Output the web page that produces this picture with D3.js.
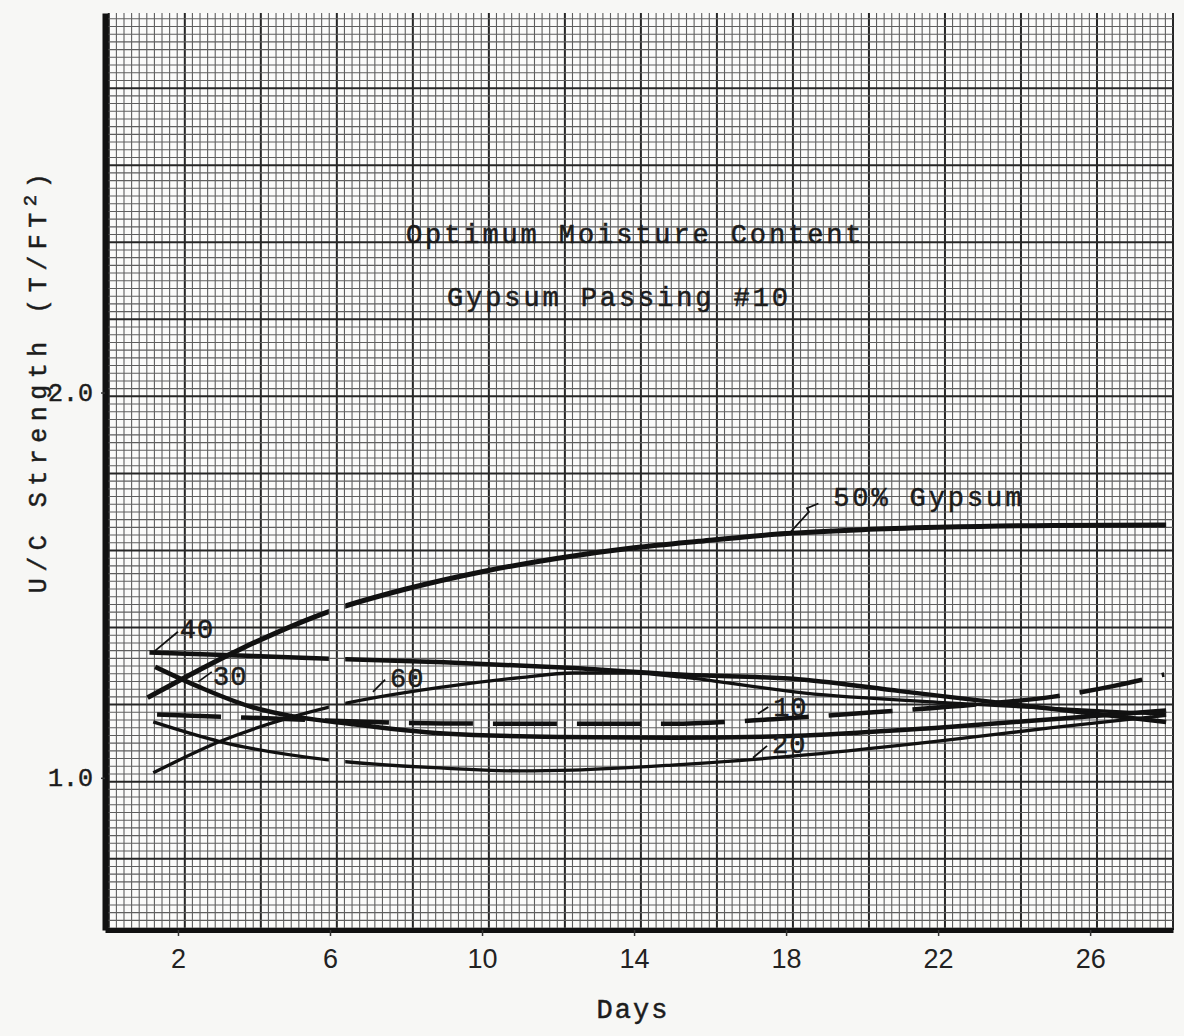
<!DOCTYPE html>
<html>
<head>
<meta charset="utf-8">
<script src="https://cdn.jsdelivr.net/npm/d3@7"></script>
<style>
  body { margin: 0; background: #f7f7f5; }
  svg { display: block; }
  .type { font-family: "Liberation Mono", "DejaVu Sans Mono", monospace; fill: #1c1c1c; stroke: #1c1c1c; stroke-width: 0.5px; }
</style>
</head>
<body>
<div id="chart"></div>
<script>
// curves: [day, U/C strength in T/ft2]
var gyp50 = [[1.2,1.208],[3.6,1.332],[6.1,1.436],[8,1.49],[10,1.535],[12,1.57],[14,1.597],[15.7,1.614],[18,1.634],[20,1.644],[22,1.65],[25,1.655],[28,1.656]];
var gyp40 = [[1.25,1.325],[4,1.316],[6,1.309],[9,1.3],[12.4,1.285],[15.2,1.268],[18.4,1.255],[21,1.225],[24,1.19],[28,1.145]];
var gyp30 = [[1.4,1.288],[2.6,1.234],[3.9,1.185],[5,1.16],[6.3,1.143],[9,1.115],[12,1.106],[15,1.104],[18.5,1.11],[22,1.13],[25,1.152],[28,1.175]];
var gyp60 = [[1.35,1.013],[3.1,1.094],[6,1.184],[9,1.236],[11,1.26],[12.4,1.272],[14,1.272],[15.2,1.262],[18.5,1.22],[22,1.196],[25,1.18],[28,1.165]];
var gyp20 = [[1.35,1.145],[3.1,1.094],[5.9,1.047],[9,1.025],[11,1.018],[12.4,1.02],[15,1.033],[18.6,1.06],[22,1.095],[25,1.13],[28,1.162]];
var gyp10 = [[1.45,1.164],[3.9,1.156],[9,1.141],[15,1.14],[17,1.148],[18.4,1.157],[20.3,1.17],[23,1.19],[25,1.21],[26.6,1.238],[27.95,1.268]];

var xTicks = [2, 6, 10, 14, 18, 22, 26];
var yTicks = [1.0, 2.0];

// little pointer notes written next to the curves
var notes = [
  {text: "40", from: [1.34,1.325], to: [2.0,1.379], at: [2.05,1.364]},
  {text: "30", from: [2.53,1.249], to: [2.89,1.275], at: [2.92,1.242]},
  {text: "60", from: [7.13,1.223], to: [7.45,1.255], at: [7.58,1.236]},
  {text: "10", from: [17.26,1.166], to: [17.53,1.184], at: [17.66,1.161]},
  {text: "20", from: [17.13,1.052], to: [17.5,1.083], at: [17.63,1.065]}
];

var width = 1184, height = 1036;
var pl = 105, pr = 1173, pt = 13, pb = 930;   // plot box edges

var svg = d3.select("#chart").append("svg")
    .attr("width", width)
    .attr("height", height);

var x = d3.scaleLinear().domain([0.08, 28.18]).range([pl, pr]);
var y = d3.scaleLinear().domain([0.605, 2.985]).range([pb, pt]);

// graph paper
svg.append("rect")
    .attr("x", pl).attr("y", pt)
    .attr("width", pr - pl).attr("height", pb - pt)
    .attr("fill", "#fbfbfa");

var grid = svg.append("g");
var vLines = d3.range(0, 141).map(function(i) { return {v: 0.18 + i * 0.2, major: i % 10 == 0}; });
var hLines = d3.range(0, 120).map(function(i) { return {v: 0.59 + i * 0.02, major: i % 10 == 0}; });

grid.selectAll(".vl")
  .data(vLines.filter(function(d) { return d.v <= 28.2; }))
  .enter().append("line")
    .attr("x1", function(d) { return x(d.v); })
    .attr("x2", function(d) { return x(d.v); })
    .attr("y1", pt).attr("y2", pb)
    .attr("stroke", function(d) { return d.major ? "#262626" : "#5f5f5f"; })
    .attr("stroke-width", function(d) { return d.major ? 2 : 1.1; });

grid.selectAll(".hl")
  .data(hLines.filter(function(d) { return d.v > 0.605 && d.v < 2.985; }))
  .enter().append("line")
    .attr("y1", function(d) { return y(d.v); })
    .attr("y2", function(d) { return y(d.v); })
    .attr("x1", pl).attr("x2", pr)
    .attr("stroke", function(d) { return d.major ? "#262626" : "#5f5f5f"; })
    .attr("stroke-width", function(d) { return d.major ? 2 : 1.1; });

// the inked curves were broken where the day 6 points sat
var defs = svg.append("defs");
var gap = defs.append("clipPath").attr("id", "gap");
gap.append("rect").attr("x", pl).attr("y", pt)
    .attr("width", x(5.97) - pl).attr("height", pb - pt);
gap.append("rect").attr("x", x(6.4)).attr("y", pt)
    .attr("width", pr - x(6.4)).attr("height", pb - pt);

var line = d3.line()
    .x(function(d) { return x(d[0]); })
    .y(function(d) { return y(d[1]); })
    .curve(d3.curveMonotoneX);

var curves = [
  {data: gyp50, w: 5, dash: null, clip: true},
  {data: gyp40, w: 4.5, dash: null, clip: true},
  {data: gyp30, w: 4.5, dash: null, clip: false},
  {data: gyp60, w: 3.3, dash: null, clip: true},
  {data: gyp20, w: 3.3, dash: null, clip: true},
  {data: gyp10, w: 4.5, dash: "64,20", clip: false}
];

svg.selectAll(".curve")
  .data(curves)
  .enter().append("path")
    .attr("d", function(d) { return line(d.data); })
    .attr("fill", "none")
    .attr("stroke", "#111")
    .attr("stroke-width", function(d) { return d.w; })
    .attr("stroke-dasharray", function(d) { return d.dash; })
    .attr("stroke-linecap", "butt")
    .attr("clip-path", function(d) { return d.clip ? "url(#gap)" : null; });

// pointer notes
notes.forEach(function(n) {
  svg.append("line")
    .attr("x1", x(n.from[0])).attr("y1", y(n.from[1]))
    .attr("x2", x(n.to[0])).attr("y2", y(n.to[1]))
    .attr("stroke", "#111").attr("stroke-width", 1.8);
  svg.append("text").attr("class", "type")
    .attr("x", x(n.at[0])).attr("y", y(n.at[1]))
    .attr("font-size", 27).attr("letter-spacing", 1)
    .text(n.text);
});

svg.append("path")
    .attr("d", d3.line()([[x(18.1), y(1.636)], [x(18.6), y(1.69)], [x(18.55), y(1.7)], [x(18.85), y(1.712)]]))
    .attr("fill", "none").attr("stroke", "#111").attr("stroke-width", 1.8);
svg.append("text").attr("class", "type")
    .attr("x", x(19.24)).attr("y", y(1.706))
    .attr("font-size", 27).attr("letter-spacing", 2.9)
    .text("50% Gypsum");

// typed captions
svg.append("text").attr("class", "type")
    .attr("x", 406).attr("y", 243)
    .attr("font-size", 27).attr("letter-spacing", 2.9)
    .text("Optimum Moisture Content");
svg.append("text").attr("class", "type")
    .attr("x", 447).attr("y", 306)
    .attr("font-size", 27).attr("letter-spacing", 2.9)
    .text("Gypsum Passing #10");

// axes
var xAxis = svg.append("g")
    .attr("transform", "translate(0," + pb + ")")
    .call(d3.axisBottom(x).tickValues(xTicks).tickSize(6).tickSizeOuter(0).tickPadding(13));
xAxis.select(".domain").attr("stroke", "#111").attr("stroke-width", 5);
xAxis.selectAll(".tick line").attr("stroke", "#333").attr("stroke-width", 1.5);
xAxis.selectAll(".tick text")
    .attr("font-family", "'Liberation Sans', Arial, sans-serif")
    .attr("font-size", 27).attr("fill", "#222");

var yAxis = svg.append("g")
    .attr("transform", "translate(" + pl + ",0)")
    .call(d3.axisLeft(y).tickValues(yTicks).tickFormat(d3.format(".1f")).tickSize(4).tickSizeOuter(0).tickPadding(8));
yAxis.select(".domain").attr("stroke", "#111").attr("stroke-width", 6);
yAxis.selectAll(".tick line").attr("stroke", "#333").attr("stroke-width", 1.5);
yAxis.selectAll(".tick text")
    .attr("class", "type")
    .attr("font-family", "'Liberation Mono', monospace")
    .attr("font-size", 25).attr("fill", "#222");

svg.append("text").attr("class", "type")
    .attr("x", 633).attr("y", 1018)
    .attr("text-anchor", "middle")
    .attr("font-size", 27).attr("letter-spacing", 2)
    .text("Days");

var yTitle = svg.append("text").attr("class", "type")
    .attr("transform", "translate(46,380) rotate(-90)")
    .attr("text-anchor", "middle")
    .attr("font-size", 25).attr("letter-spacing", 6.5);
yTitle.append("tspan").text("U/C Strength (T/FT");
yTitle.append("tspan").attr("dy", -10).attr("font-size", 19).text("2");
yTitle.append("tspan").attr("dy", 10).text(")");
</script>
</body>
</html>
